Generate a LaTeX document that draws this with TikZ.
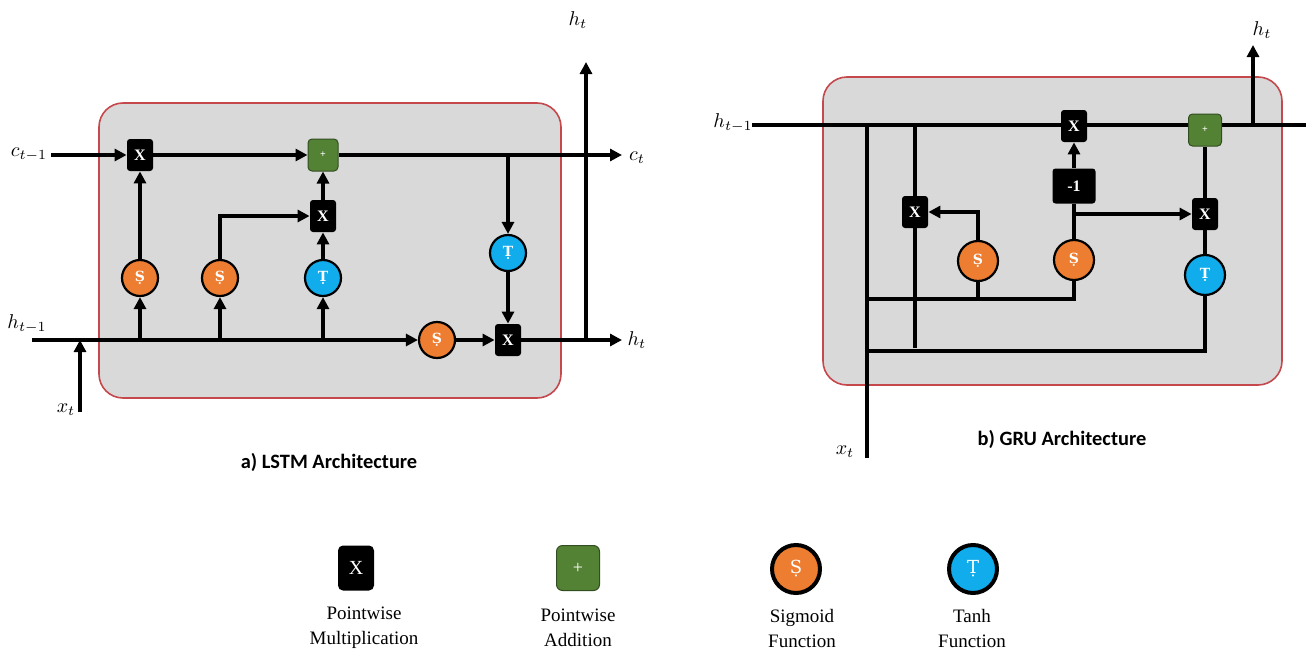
\documentclass[tikz,border=0pt]{standalone}
\usepackage{fontspec}
\setmainfont{Liberation Serif}
\newfontfamily\capfont{Carlito}
\newfontfamily\glyphfont{DejaVu Serif}
\usetikzlibrary{arrows.meta,backgrounds}

\definecolor{cellgray}{HTML}{D9D9D9}
\definecolor{cellred}{HTML}{C4484C}
\definecolor{sigorange}{HTML}{ED7D31}
\definecolor{tanhblue}{HTML}{10ACEC}
\definecolor{addgreen}{HTML}{548235}

\newcommand{\sigS}{{\glyphfont Ṣ}}
\newcommand{\tanhT}{{\glyphfont Ṭ}}

\begin{document}
\begin{tikzpicture}[x=0.5pt,y=-0.5pt,
    flow/.style={line width=1.8pt,-{Triangle[length=6pt,width=6pt]}},
    wire/.style={line width=1.8pt},
    cell/.style={draw=cellred,line width=0.8pt,fill=cellgray,rounded corners=12pt},
    mult/.style={fill=black,text=white,rounded corners=1.5pt,minimum width=13pt,minimum height=16pt,inner sep=0pt,font=\bfseries\footnotesize},
    negbox/.style={mult,minimum width=21.5pt,minimum height=17.5pt},
    addbox/.style={fill=addgreen,draw=addgreen!60!black,line width=0.5pt,text=white,rounded corners=2pt,minimum width=15pt,minimum height=16pt,inner sep=0pt,font=\bfseries\tiny},
    sig/.style={circle,fill=sigorange,draw=black,line width=1.1pt,minimum size=18pt,inner sep=0pt,text=white,font=\bfseries\scriptsize},
    tanhc/.style={sig,fill=tanhblue},
    lbl/.style={font=\normalsize},
    caption/.style={font=\capfont\bfseries\fontsize{10.2}{12}\selectfont},
    legtext/.style={align=center,font=\fontsize{9.5}{12.5}\selectfont}]
    \useasboundingbox (0,0) rectangle (1306,653);

    % LSTM cell
    \begin{scope}[on background layer]
        \draw[cell] (99,103) rectangle (561,398);
    \end{scope}
    \node[mult] (lx1) at (140,155) {X};
    \node[addbox] (ladd) at (323,155) {+};
    \node[mult] (lx2) at (323,216) {X};
    \node[sig] (ls1) at (140,278) {\sigS};
    \node[sig] (ls2) at (220,278) {\sigS};
    \node[tanhc] (lt1) at (323,278) {\tanhT};
    \node[tanhc] (lt2) at (508,253) {\tanhT};
    \node[sig] (ls3) at (437,340) {\sigS};
    \node[mult] (lx3) at (508,340) {X};
    \node[lbl] (lcin) at (29,155) {$c_{t-1}$};
    \node[lbl] (lhin) at (27,324) {$h_{t-1}$};
    \node[lbl] (lxt) at (66,410) {$x_t$};
    \node[lbl] (lct) at (637,158) {$c_t$};
    \node[lbl] (lht) at (637,340) {$h_t$};
    \node[lbl] (lhtop) at (578,20) {$h_t$};
    \coordinate (lc0) at (51,155);
    \coordinate (lc1) at (622,155);
    \coordinate (lh0) at (32,340);
    \coordinate (lh1) at (622,340);
    \coordinate (lhup) at (586,62);
    \coordinate (lx0) at (80,412);

    \draw[flow] (lc0) -- (lx1);
    \draw[flow] (lx1) -- (ladd);
    \draw[flow] (ladd) -- (lc1);
    \draw[flow] (lt2 |- lc0) -- (lt2);
    \draw[flow] (lt2) -- (lx3);
    \draw[flow] (lh0) -- (ls3);
    \draw[flow] (ls3) -- (lx3);
    \draw[flow] (lx3) -- (lh1);
    \draw[flow] (lhup |- lh0) -- (lhup);
    \draw[flow] (lx0) -- (lx0 |- lh0);
    \draw[flow] (ls1 |- lh0) -- (ls1);
    \draw[flow] (ls2 |- lh0) -- (ls2);
    \draw[flow] (lt1 |- lh0) -- (lt1);
    \draw[flow] (ls1) -- (lx1);
    \draw[flow] (ls2) |- (lx2);
    \draw[flow] (lt1) -- (lx2);
    \draw[flow] (lx2) -- (ladd);
    \node[caption] (lcap) at (329,462) {a) LSTM Architecture};

    % GRU cell
    \begin{scope}[on background layer]
        \draw[cell] (823,77) rectangle (1282,385);
    \end{scope}
    \node[mult] (gx1) at (1074,126) {X};
    \node[addbox,minimum width=16.5pt] (gadd) at (1205,130) {+};
    \node[negbox] (gneg) at (1074,186) {-1};
    \node[mult] (gx2) at (1205,214) {X};
    \node[mult] (gx3) at (915,212) {X};
    \node[sig,minimum size=20pt] (gs1) at (978,261) {\sigS};
    \node[sig,minimum size=20pt] (gs2) at (1074,260) {\sigS};
    \node[tanhc,minimum size=20pt] (gt) at (1205,275) {\tanhT};
    \node[lbl] (ghin) at (733,123) {$h_{t-1}$};
    \node[lbl] (ghtop) at (1262,30) {$h_t$};
    \node[lbl] (gxt) at (845,452) {$x_t$};
    \coordinate (gh0) at (752,125);
    \coordinate (gh1) at (1306,125);
    \coordinate (ghup) at (1253,45);
    \coordinate (gx0) at (867,458);
    \coordinate (gv2) at (915,348);
    \coordinate (gr1) at (867,299);
    \coordinate (gr2) at (867,351);

    \begin{scope}[on background layer]
        \draw[wire] (gh0) -- (gh1);
        \draw[wire] (gx0) -- (gx0 |- gh0);
        \draw[wire] (gv2) -- (gv2 |- gh0);
        \draw[wire] (gr1) -| (gs2);
        \draw[wire] (gs1) -- (gs1 |- gr1);
        \draw[wire] (gr2) -| (gt);
        \draw[wire] (gt) -- (gx2) -- (gadd);
        \draw[wire] (gs2) -- (gneg);
    \end{scope}
    \draw[flow] (ghup |- gh0) -- (ghup);
    \draw[flow] (gs1) |- (gx3);
    \draw[flow] (gneg) -- (gx1);
    \draw[flow] (gs2 |- gx2) -- (gx2);
    \node[caption] (gcap) at (1062,439) {b) GRU Architecture};

    % legend
    \node[mult,minimum width=18pt,minimum height=22.5pt,rounded corners=2.5pt,font=\normalsize] (kmult) at (356,568) {X};
    \node[addbox,minimum width=21.5pt,minimum height=22.5pt,rounded corners=3pt,font=\small] (kadd) at (578,568) {+};
    \node[sig,minimum size=24pt,line width=2pt,font=\small] (ksig) at (796,569) {\sigS};
    \node[tanhc,minimum size=24pt,line width=2pt,font=\small] (ktanh) at (973,569) {\tanhT};
    \node[legtext] (kmultt) at (364,628) {Pointwise\\Multiplication};
    \node[legtext] (kaddt) at (578,628) {Pointwise\\Addition};
    \node[legtext] (ksigt) at (802,628) {Sigmoid\\Function};
    \node[legtext] (ktanht) at (972,628) {Tanh\\Function};
\end{tikzpicture}
\end{document}
